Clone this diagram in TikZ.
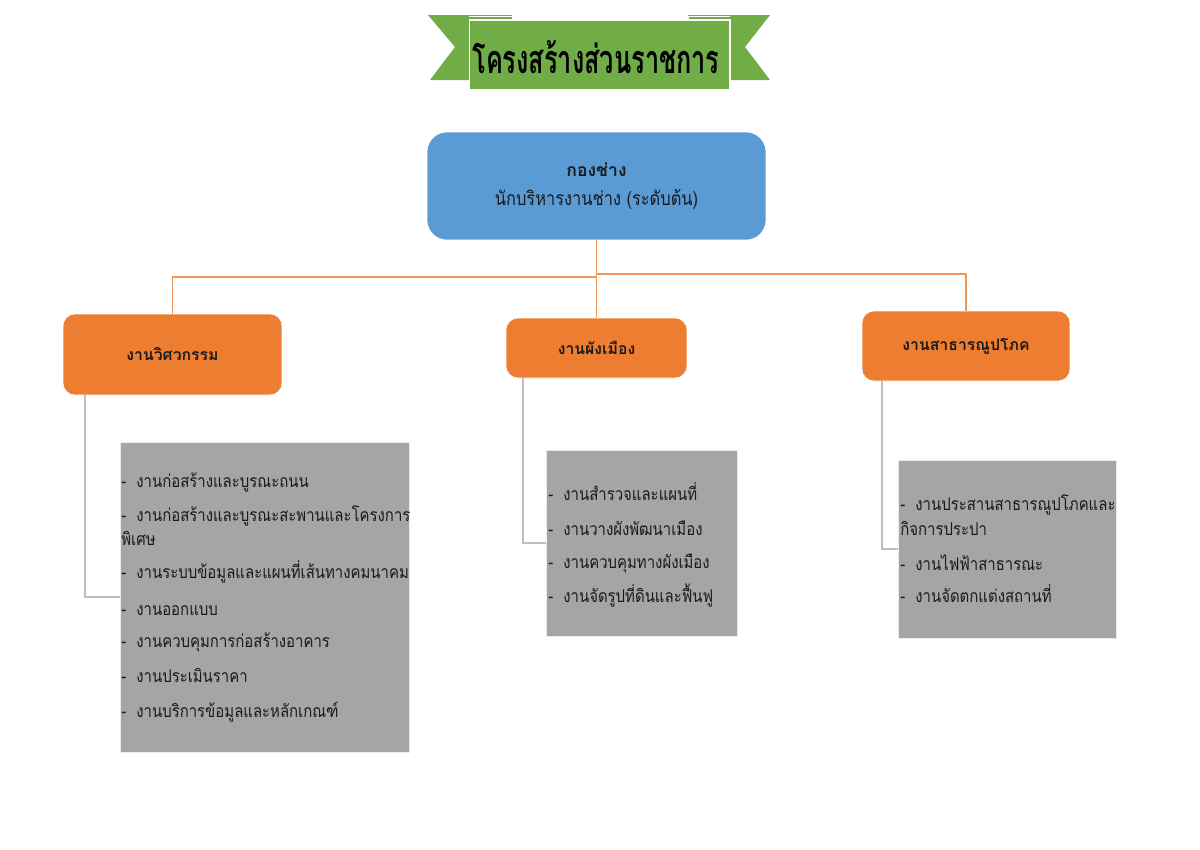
\documentclass[tikz,border=0pt]{standalone}
\usepackage{fontspec}
\setmainfont[Script=Thai]{Loma}
\newfontfamily\narrowthai[Script=Thai,FakeStretch=0.85]{Loma}
\newfontfamily\titlethai[Script=Thai,FakeStretch=0.64]{Loma}
\usetikzlibrary{calc}
\definecolor{cblue}{HTML}{5B9BD5}
\definecolor{corange}{HTML}{ED7D31}
\definecolor{cgray}{HTML}{A5A5A5}
\definecolor{cgreen}{HTML}{70AD47}
\definecolor{cline}{HTML}{BFBFBF}
\definecolor{ctext}{HTML}{1A1A1A}
\begin{document}
\begin{tikzpicture}[x=0.02cm,y=-0.02cm,
  bluebox/.style={fill=cblue,draw=white,line width=0.3pt,rounded corners=0.4cm,inner sep=0pt,outer sep=0pt,align=center,text=ctext},
  orbox/.style={fill=corange,draw=white,line width=0.3pt,rounded corners=0.24cm,inner sep=0pt,outer sep=0pt,align=center,text=ctext,font=\bfseries\fontsize{9}{11}\selectfont},
  graybox/.style={fill=cgray,draw=white!85!gray,line width=0.3pt,inner sep=0pt,outer sep=0pt},
  item/.style={anchor=base west,inner sep=0pt,text=ctext,font=\narrowthai\fontsize{10}{12}\selectfont},
  oline/.style={draw=corange!80!white,line width=0.7pt},
  gline/.style={draw=cline,line width=0.7pt}]
\useasboundingbox (0,0) rectangle (1200,849);
\fill[white] (0,0) rectangle (1200,849);
% banner
\fill[cgreen] (428,15) -- (512,15) -- (512,80) -- (430,80) -- (455,47) -- cycle;
\fill[cgreen] (770,15) -- (688,15) -- (688,80) -- (770,80) -- (745,47) -- cycle;
\fill[cgreen!85!black] (469,20) rectangle (512,30);
\fill[cgreen!85!black] (688,20) rectangle (730,30);
\draw[white,line width=0.5pt] (469,16) -- (512,16) -- (512,20);
\draw[white,line width=0.5pt] (730,16) -- (688,16) -- (688,20);
\node[fill=cgreen,draw=white,line width=0.6pt,minimum width=5.22cm,minimum height=1.4cm,inner sep=0pt] (banner) at (599.5,55) {};
\node[font=\titlethai\bfseries\fontsize{22.5}{26}\selectfont,text=black] (title) at (596,57) {โครงสร้างส่วนราชการ};
% main boxes
\node[bluebox,minimum width=6.78cm,minimum height=2.16cm] (head) at (596.5,186) {};
\node[inner sep=0pt,font=\bfseries\fontsize{10}{12}\selectfont,text=ctext] (headA) at (596.5,170) {กองช่าง};
\node[inner sep=0pt,font=\narrowthai\fontsize{11}{13}\selectfont,text=ctext] (headB) at (596.5,199) {นักบริหารงานช่าง (ระดับต้น)};
\node[orbox,minimum width=4.38cm,minimum height=1.62cm] (eng) at (172.5,354.5) {งานวิศวกรรม};
\node[orbox,minimum width=3.62cm,minimum height=1.2cm] (city) at (596.5,348) {งานผังเมือง};
\node[orbox,minimum width=4.16cm,minimum height=1.4cm] (util) at (966,346) {งานสาธารณูปโภค};
% connectors
\draw[oline] (head.south) -- (city.north);
\draw[oline] (head.south |- 0,277) -| (eng.north);
\draw[oline] (head.south |- 0,274) -| (util.north);
% gray connectors (drawn before boxes)
\draw[gline] ($(eng.south west)+(22,0)$) |- (120,597) coordinate (g1in);
\draw[gline] ($(city.south west)+(17,0)$) |- (546,543) coordinate (g2in);
\draw[gline] ($(util.south west)+(20,0)$) |- (898,549) coordinate (g3in);
% gray boxes
\node[graybox,minimum width=5.78cm,minimum height=6.2cm] (g1) at (264.5,597) {};
\node[graybox,minimum width=3.82cm,minimum height=3.72cm] (g2) at (641.5,543) {};
\node[graybox,minimum width=4.36cm,minimum height=3.56cm] (g3) at (1007,549) {};
% items box 1
\node[item] (a1) at (121,487) {- \ งานก่อสร้างและบูรณะถนน};
\node[item] (a2) at (121,521) {- \ งานก่อสร้างและบูรณะสะพานและโครงการ};
\node[item] (a2b) at (121,545) {พิเศษ};
\node[item] (a3) at (121,578) {- \ งานระบบข้อมูลและแผนที่เส้นทางคมนาคม};
\node[item] (a4) at (121,615) {- \ งานออกแบบ};
\node[item] (a5) at (121,647) {- \ งานควบคุมการก่อสร้างอาคาร};
\node[item] (a6) at (121,682) {- \ งานประเมินราคา};
\node[item] (a7) at (121,717) {- \ งานบริการข้อมูลและหลักเกณฑ์};
% items box 2
\node[item] (b1) at (548,500) {- \ งานสำรวจและแผนที่};
\node[item] (b2) at (548,535) {- \ งานวางผังพัฒนาเมือง};
\node[item] (b3) at (548,568) {- \ งานควบคุมทางผังเมือง};
\node[item] (b4) at (548,602) {- \ งานจัดรูปที่ดินและฟื้นฟู};
% items box 3
\node[item] (c1) at (900,510) {- \ งานประสานสาธารณูปโภคและ};
\node[item] (c1b) at (900,535) {กิจการประปา};
\node[item] (c2) at (900,570) {- \ งานไฟฟ้าสาธารณะ};
\node[item] (c3) at (900,602) {- \ งานจัดตกแต่งสถานที่};
\end{tikzpicture}
\end{document}
